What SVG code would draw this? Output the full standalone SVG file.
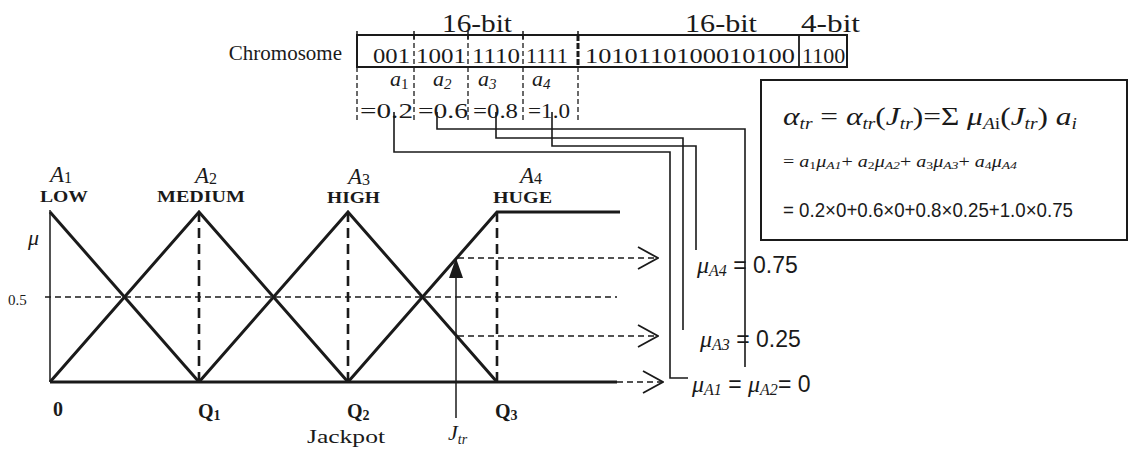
<svg xmlns="http://www.w3.org/2000/svg" width="1128" height="450" viewBox="0 0 1128 450">
<defs>
<style>
text{font-family:"Liberation Serif","Times New Roman",serif;fill:#1a1a1a}
.sans{font-family:"Liberation Sans",Arial,sans-serif}
.it{font-style:italic}
.b{font-weight:bold}
.thin{stroke:#1a1a1a;stroke-width:1.5;fill:none}
.conn{stroke:#1a1a1a;stroke-width:1.6;fill:none}
.thick{stroke:#1a1a1a;stroke-width:3;fill:none;stroke-linejoin:miter}
.dthick{stroke:#1a1a1a;stroke-width:2.6;stroke-dasharray:10 6;fill:none}
.dthin{stroke:#1a1a1a;stroke-width:1.5;stroke-dasharray:6 4;fill:none}
.ddiv{stroke:#1a1a1a;stroke-width:1.3;stroke-dasharray:5 3;fill:none}
</style>
<marker id="chev" viewBox="0 0 22 24" refX="21" refY="12" markerWidth="22" markerHeight="24" markerUnits="userSpaceOnUse" orient="auto"><path d="M1,1 L21,12 L1,23" fill="none" stroke="#1a1a1a" stroke-width="1.8" stroke-dasharray="none"/></marker>
<marker id="tri" viewBox="0 0 20 16" refX="20" refY="8" markerWidth="20" markerHeight="16" markerUnits="userSpaceOnUse" orient="auto"><path d="M0,1 L20,8 L0,15 Z" fill="#1a1a1a" stroke="none"/></marker>
</defs>
<rect width="1128" height="450" fill="#ffffff"/>

<g id="chromosome">
<text x="342" y="60" font-size="21" text-anchor="end">Chromosome</text>
<text x="442" y="32" font-size="26" textLength="70" lengthAdjust="spacingAndGlyphs">16-bit</text>
<text x="685" y="32" font-size="26" textLength="72" lengthAdjust="spacingAndGlyphs">16-bit</text>
<text x="801" y="32" font-size="26" textLength="59" lengthAdjust="spacingAndGlyphs">4-bit</text>
<rect x="357" y="35" width="490" height="32" fill="none" stroke="#1a1a1a" stroke-width="2"/>
<path class="thin" d="M357,31V39M414,31V39M468,31V39M523,31V39M578,31V39"/>
<path class="ddiv" d="M414,35V67M468,35V67M523,35V67"/>
<path d="M578,35V67" stroke="#1a1a1a" stroke-width="3" stroke-dasharray="6 2" fill="none"/>
<path d="M799,35V67" stroke="#1a1a1a" stroke-width="1.8" fill="none"/>
<path class="ddiv" d="M357,67V123M414,67V123M468,67V123M523,67V123M578,67V123"/>
<text x="373" y="63" font-size="22" textLength="37" lengthAdjust="spacingAndGlyphs">001</text>
<text x="416" y="63" font-size="22" textLength="50" lengthAdjust="spacingAndGlyphs">1001</text>
<text x="472" y="63" font-size="22" textLength="48" lengthAdjust="spacingAndGlyphs">1110</text>
<text x="526" y="63" font-size="22" textLength="42" lengthAdjust="spacingAndGlyphs">1111</text>
<text x="585" y="63" font-size="22" textLength="210" lengthAdjust="spacingAndGlyphs">1010110100010100</text>
<text x="802" y="63" font-size="22">1100</text>
<text x="390" y="86" font-size="22" class="it">a<tspan font-size="15" font-style="normal" dy="3">1</tspan></text>
<text x="433" y="86" font-size="22" class="it">a<tspan font-size="15" dy="3">2</tspan></text>
<text x="478" y="86" font-size="22" class="it">a<tspan font-size="15" dy="3">3</tspan></text>
<text x="532" y="86" font-size="22" class="it">a<tspan font-size="15" dy="3">4</tspan></text>
<text x="360" y="118" font-size="22" textLength="53" lengthAdjust="spacingAndGlyphs">=0.2</text>
<text x="418" y="118" font-size="22" textLength="50" lengthAdjust="spacingAndGlyphs">=0.6</text>
<text x="473" y="118" font-size="22" textLength="45" lengthAdjust="spacingAndGlyphs">=0.8</text>
<text x="528" y="118" font-size="22" textLength="42" lengthAdjust="spacingAndGlyphs">=1.0</text>
</g>

<g id="formula">
<rect x="761" y="80" width="366" height="160" fill="none" stroke="#1a1a1a" stroke-width="2"/>
<text x="783" y="125" font-size="26" textLength="294" lengthAdjust="spacingAndGlyphs"><tspan class="it">α</tspan><tspan class="it" font-size="16" dy="4">tr</tspan><tspan dy="-4"> = </tspan><tspan class="it">α</tspan><tspan class="it" font-size="16" dy="4">tr</tspan><tspan dy="-4">(</tspan><tspan class="it">J</tspan><tspan class="it" font-size="16" dy="4">tr</tspan><tspan dy="-4">)=Σ </tspan><tspan class="it">μ</tspan><tspan class="it" font-size="16" dy="4">A</tspan><tspan font-size="16">i</tspan><tspan dy="-4">(</tspan><tspan class="it">J</tspan><tspan class="it" font-size="16" dy="4">tr</tspan><tspan dy="-4">) </tspan><tspan class="it">a</tspan><tspan class="it" font-size="16" dy="4">i</tspan></text>
<text x="783" y="167" font-size="16" textLength="234" lengthAdjust="spacingAndGlyphs">= <tspan class="it">a</tspan><tspan font-size="11" dy="2">1</tspan><tspan class="it" dy="-2">μ</tspan><tspan class="it" font-size="11" dy="2">A1</tspan><tspan dy="-2">+ </tspan><tspan class="it">a</tspan><tspan font-size="11" dy="2">2</tspan><tspan class="it" dy="-2">μ</tspan><tspan class="it" font-size="11" dy="2">A2</tspan><tspan dy="-2">+ </tspan><tspan class="it">a</tspan><tspan font-size="11" dy="2">3</tspan><tspan class="it" dy="-2">μ</tspan><tspan class="it" font-size="11" dy="2">A3</tspan><tspan dy="-2">+ </tspan><tspan class="it">a</tspan><tspan font-size="11" dy="2">4</tspan><tspan class="it" dy="-2">μ</tspan><tspan class="it" font-size="11" dy="2">A4</tspan></text>
<text x="783" y="217" font-size="20" class="sans" textLength="290" lengthAdjust="spacingAndGlyphs">= 0.2×0+0.6×0+0.8×0.25+1.0×0.75</text>
</g>

<g id="membership-graph">
<path class="thin" d="M50,210V382"/>
<path class="dthin" d="M45,297H617"/>
<path class="dthick" d="M199,212V382M348,212V382M497,212V382"/>
<path class="thick" d="M50,212L199,382"/>
<path class="thick" d="M50,382L199,212L348,382"/>
<path class="thick" d="M199,382L348,212L497,382"/>
<path class="thick" d="M348,382L497,212H620"/>
<path class="thick" d="M50,382H617"/>
<text x="28" y="245" font-size="22" class="it">μ</text>
<text x="8" y="305" font-size="15">0.5</text>
<text x="50" y="182" font-size="23" class="it">A<tspan font-size="16" font-style="normal" dy="1">1</tspan></text>
<text x="40" y="202" font-size="17" class="b" textLength="48" lengthAdjust="spacingAndGlyphs">LOW</text>
<text x="195" y="183" font-size="23" class="it">A<tspan font-size="16" font-style="normal" dy="1">2</tspan></text>
<text x="157" y="202" font-size="17" class="b" textLength="88" lengthAdjust="spacingAndGlyphs">MEDIUM</text>
<text x="348" y="184" font-size="23" class="it">A<tspan font-size="16" font-style="normal" dy="1">3</tspan></text>
<text x="327" y="203" font-size="17" class="b" textLength="53" lengthAdjust="spacingAndGlyphs">HIGH</text>
<text x="520" y="183" font-size="23" class="it">A<tspan font-size="16" font-style="normal" dy="1">4</tspan></text>
<text x="493" y="203" font-size="17" class="b" textLength="59" lengthAdjust="spacingAndGlyphs">HUGE</text>
<text x="53" y="416" font-size="20" class="b">0</text>
<text x="198" y="418" font-size="20" class="b">Q<tspan font-size="14" dy="2">1</tspan></text>
<text x="347" y="418" font-size="20" class="b">Q<tspan font-size="14" dy="2">2</tspan></text>
<text x="495" y="418" font-size="20" class="b">Q<tspan font-size="14" dy="2">3</tspan></text>
<text x="307" y="443" font-size="19" textLength="78" lengthAdjust="spacingAndGlyphs">Jackpot</text>
<text x="448" y="440" font-size="22" class="it">J<tspan font-size="14" dy="4">tr</tspan></text>
</g>

<g id="mu-labels">
<text x="697" y="273" font-size="24"><tspan class="it">μ</tspan><tspan class="it" font-size="16" dy="3">A4</tspan><tspan class="sans" dy="-3" font-size="23"> = 0.75</tspan></text>
<text x="700" y="347" font-size="24"><tspan class="it">μ</tspan><tspan class="it" font-size="16" dy="3">A3</tspan><tspan class="sans" dy="-3" font-size="23"> = 0.25</tspan></text>
<text x="692" y="392" font-size="24"><tspan class="it">μ</tspan><tspan class="it" font-size="16" dy="3">A1</tspan><tspan class="sans" dy="-3" font-size="23"> = </tspan><tspan class="it">μ</tspan><tspan class="it" font-size="16" dy="3">A2</tspan><tspan class="sans" dy="-3" font-size="23">= 0</tspan></text>
</g>

<g id="connectors">
<path class="thin" d="M456,418V258" marker-end="url(#tri)"/>
<path class="dthin" d="M458,258H658" marker-end="url(#chev)"/>
<path class="dthin" d="M458,336H658" marker-end="url(#chev)"/>
<path class="dthin" d="M617,382H663" marker-end="url(#chev)"/>
<path class="conn" d="M394,112V152H670V378H688"/>
<path class="conn" d="M437,112V129H745V367"/>
<path class="conn" d="M496,112V138H683V330"/>
<path class="conn" d="M552,112V146H696V250"/>
</g>
</svg>
